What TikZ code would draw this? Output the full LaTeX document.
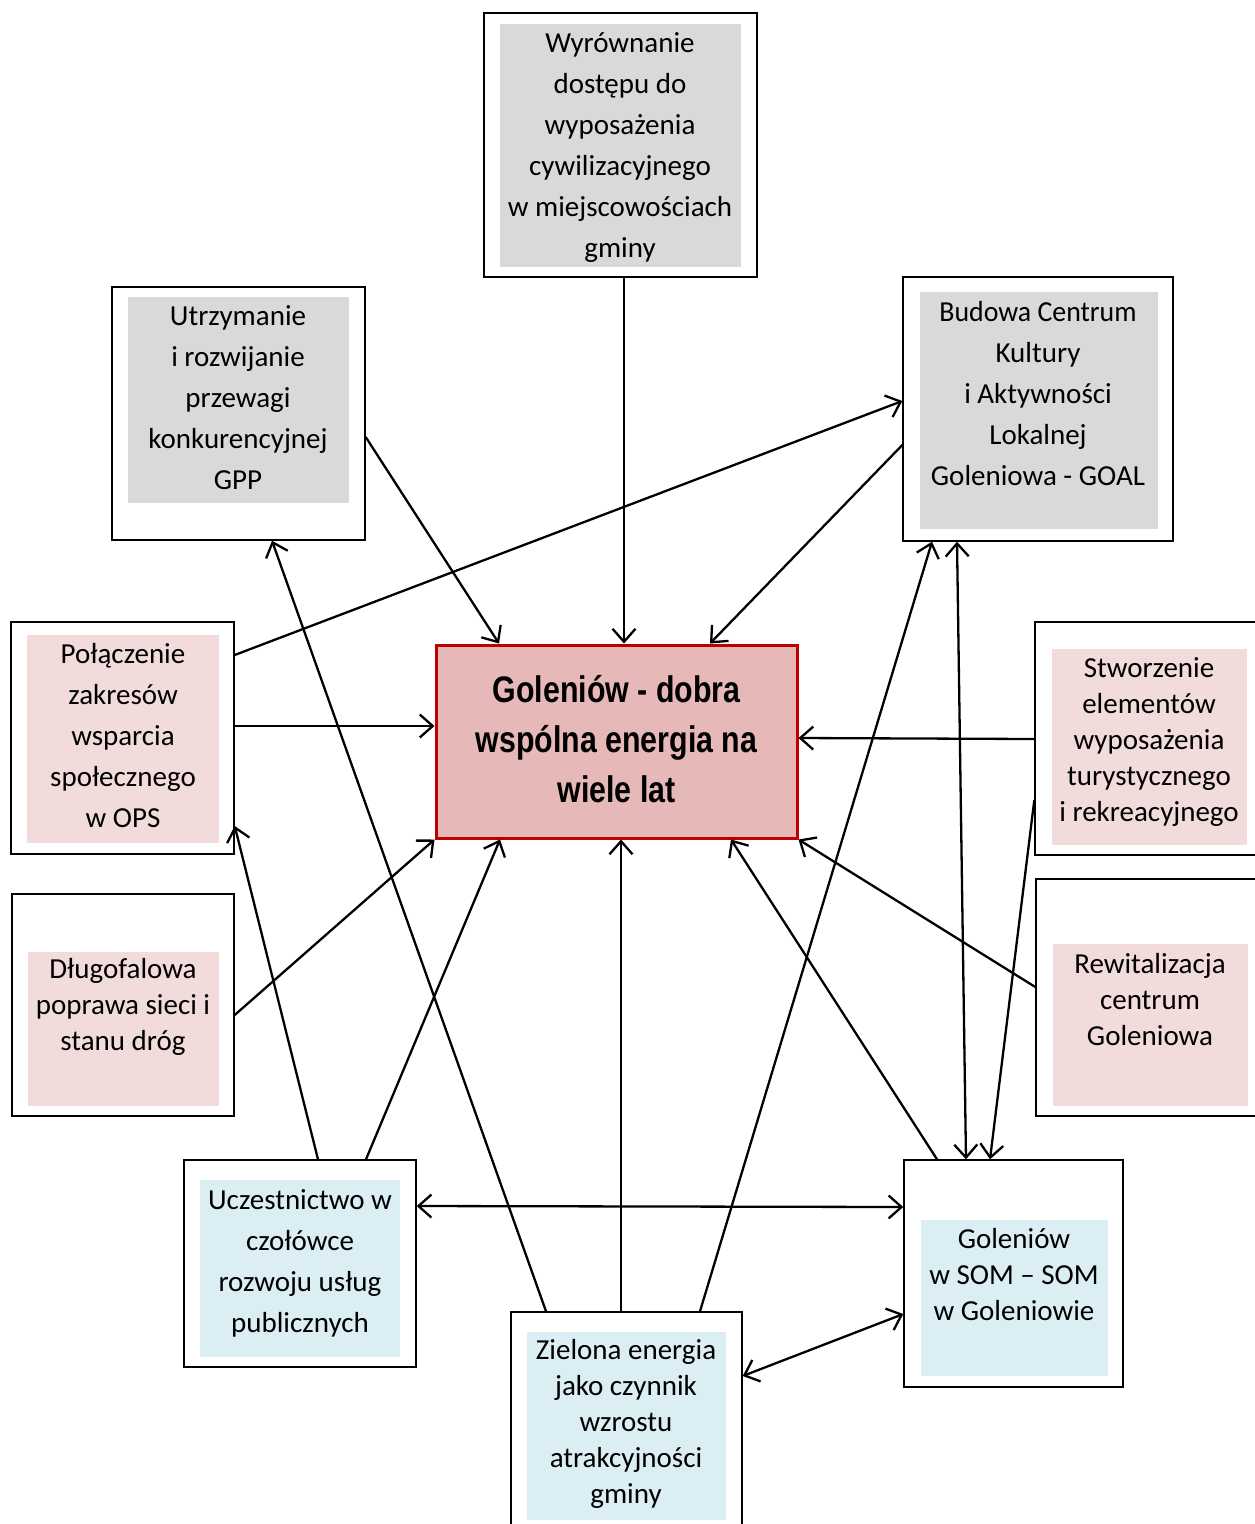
\documentclass[tikz,border=0pt]{standalone}
\usepackage{fontspec}
\setmainfont{Carlito}
\newfontfamily\narrowfont[FakeStretch=0.82]{Liberation Sans}
\usetikzlibrary{arrows.meta}
\definecolor{greyfill}{HTML}{D9D9D9}
\definecolor{pinkfill}{HTML}{F2DCDB}
\definecolor{bluefill}{HTML}{DAEEF3}
\definecolor{cenfill}{HTML}{E6B8B7}
\definecolor{cenborder}{HTML}{C00000}
\tikzset{
  frame/.style={draw=black, line width=1.4pt, rectangle, inner sep=0pt},
  txta/.style={align=center, inner sep=0pt, font=\fontsize{29}{41}\selectfont},
  txtb/.style={align=center, inner sep=0pt, font=\fontsize{29}{36}\selectfont},
  arr/.style={line width=2.3pt, -{Straight Barb[length=13pt,width=23pt,line width=2.3pt]}},
  darr/.style={line width=2.3pt, {Straight Barb[length=13pt,width=23pt,line width=2.3pt]}-{Straight Barb[length=13pt,width=23pt,line width=2.3pt]}},
}
\begin{document}
\begin{tikzpicture}[x=1pt,y=-1pt]
\useasboundingbox (0,0) rectangle (1255,1524);
% inner fills
\fill[greyfill] (500,24) rectangle (741,267);
\fill[greyfill] (128,297) rectangle (349,503);
\fill[greyfill] (920,292) rectangle (1158,529);
\fill[pinkfill] (27,635) rectangle (219,843);
\fill[pinkfill] (1052,649) rectangle (1247,845);
\fill[pinkfill] (1053,944) rectangle (1248,1106);
\fill[pinkfill] (28,952) rectangle (219,1106);
\fill[bluefill] (200,1180) rectangle (400,1357);
\fill[bluefill] (921,1220) rectangle (1108,1376);
\fill[bluefill] (527,1332) rectangle (726,1520);
% frames
\node[frame, minimum width=273, minimum height=264] (wyr) at (620.5,145) {};
\node[frame, minimum width=253, minimum height=253] (utr) at (238.5,413.5) {};
\node[frame, minimum width=270, minimum height=264] (bud) at (1038,409) {};
\node[frame, minimum width=223, minimum height=232] (pol) at (122.5,738) {};
\node[frame, minimum width=223, minimum height=233] (stw) at (1146.5,738.5) {};
\node[frame, minimum width=222, minimum height=237] (rew) at (1147,997.5) {};
\node[frame, minimum width=222, minimum height=222] (dlu) at (123,1005) {};
\node[frame, minimum width=232, minimum height=207] (ucz) at (300,1263.5) {};
\node[frame, minimum width=219, minimum height=227] (som) at (1013.5,1273.5) {};
\node[frame, minimum width=231, minimum height=224] (ziel) at (626.5,1424) {};
\node[draw=cenborder, fill=cenfill, line width=3pt, rectangle, inner sep=0pt,
      minimum width=361, minimum height=193] (cen) at (616.5,741.5) {};
% texts
\node[txta] (twyr) at (620,147.5) {Wyrównanie\\dostępu do\\wyposażenia\\cywilizacyjnego\\w miejscowościach\\gminy};
\node[txta] (tutr) at (238,398) {Utrzymanie\\i rozwijanie\\przewagi\\konkurencyjnej\\GPP};
\node[txta] (tbud) at (1038,394) {\scalebox{0.96}[1]{Budowa Centrum}\\Kultury\\i Aktywności\\Lokalnej\\Goleniowa - GOAL};
\node[txta] (tpol) at (123,736) {Połączenie\\zakresów\\wsparcia\\społecznego\\w OPS};
\node[txtb] (tstw) at (1149,742) {Stworzenie\\elementów\\wyposażenia\\turystycznego\\i rekreacyjnego};
\node[txtb] (trew) at (1150,1000) {Rewitalizacja\\centrum\\Goleniowa};
\node[txtb] (tdlu) at (123,1007) {Długofalowa\\poprawa sieci i\\stanu dróg};
\node[txta] (tucz) at (300,1263) {Uczestnictwo w\\czołówce\\rozwoju usług\\publicznych};
\node[txtb] (tsom) at (1014,1275) {Goleniów\\w SOM -- SOM\\w Goleniowie};
\node[txtb] (tziel) at (626,1424) {Zielona energia\\jako czynnik\\wzrostu\\atrakcyjności\\gminy};
\node[align=center, inner sep=0pt, font=\narrowfont\bfseries\fontsize{37}{50}\selectfont] (tcen) at (616.5,739) {Goleniów - dobra\\wspólna energia na\\wiele lat};
% connectors
\draw[arr] ([xshift=3.5]wyr.south) -- ([xshift=7.5]cen.north);
\draw[arr] ([yshift=-23.5]utr.east) -- ([xshift=-117.5]cen.north);
\draw[arr] ([yshift=-36]bud.west) -- ([xshift=93.5]cen.north);
\draw[arr] ([yshift=83]pol.east) -- ([yshift=8]bud.west);
\draw[arr] ([yshift=12]pol.east) -- ([yshift=15.5]cen.west);
\draw[arr] ([yshift=-0.5]stw.west) -- ([yshift=3.5]cen.east);
\draw[arr] ([yshift=10.5]rew.west) -- (cen.south east);
\draw[arr] ([yshift=-10]dlu.east) -- (cen.south west);
\draw[arr] ([xshift=18]ucz.north) -- ([yshift=-88]pol.east);
\draw[arr] ([xshift=66]ucz.north) -- ([xshift=-116.5]cen.south);
\draw[arr] ([xshift=-80.5]ziel.north) -- ([xshift=33.5]utr.south);
\draw[arr] ([xshift=-5.5]ziel.north) -- ([xshift=4.5]cen.south);
\draw[arr] ([xshift=73.5]ziel.north) -- ([xshift=-106]bud.south);
\draw[arr] ([xshift=-76.5]som.north) -- ([xshift=114.5]cen.south);
\draw[darr] ([xshift=-81]bud.south) -- ([xshift=-47.5]som.north);
\draw[arr] ([yshift=-61.5]stw.west) -- ([xshift=-23.5]som.north);
\draw[darr] ([yshift=57.5]ucz.east) -- ([yshift=66.5]som.west);
\draw[darr] ([yshift=48]ziel.east) -- ([yshift=-40.5]som.west);
\end{tikzpicture}
\end{document}
